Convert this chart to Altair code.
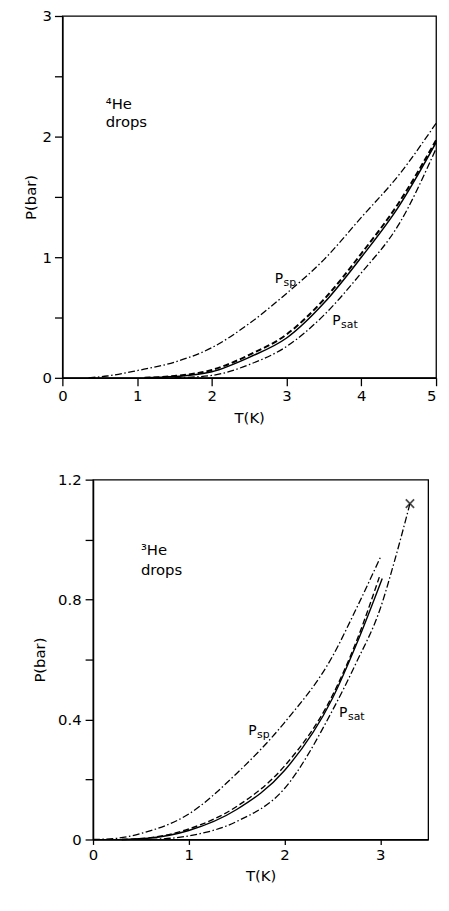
import altair as alt
import pandas as pd

# ---------------- 4He drops (top panel) ----------------
T4_sp = [0.35, 0.6, 1.0, 1.5, 2.0, 2.5, 3.0, 3.5, 4.0, 4.5, 5.0]
P4_sp = [0.0, 0.015, 0.06, 0.13, 0.25, 0.45, 0.70, 0.98, 1.33, 1.68, 2.11]
T4_solid = [1.1, 1.5, 2.0, 2.5, 3.0, 3.5, 4.0, 4.5, 5.0]
P4_solid = [0.0, 0.01, 0.05, 0.17, 0.33, 0.62, 1.0, 1.42, 1.95]
T4_dash = [1.1, 1.5, 2.0, 2.5, 3.0, 3.5, 4.0, 4.5, 5.0]
P4_dash = [0.0, 0.015, 0.065, 0.19, 0.36, 0.65, 1.03, 1.45, 1.97]
T4_sat = [1.5, 2.0, 2.5, 3.0, 3.5, 4.0, 4.5, 5.0]
P4_sat = [0.0, 0.02, 0.11, 0.26, 0.52, 0.87, 1.27, 1.90]

# ---------------- 3He drops (bottom panel) ----------------
T3_sp = [0.0, 0.25, 0.5, 1.0, 1.5, 2.0, 2.5, 2.75, 3.0]
P3_sp = [0.0, 0.004, 0.02, 0.085, 0.22, 0.39, 0.61, 0.77, 0.94]
T3_solid = [0.3, 0.6, 1.0, 1.5, 2.0, 2.5, 2.75, 3.02]
P3_solid = [0.0, 0.005, 0.03, 0.10, 0.23, 0.47, 0.65, 0.87]
T3_dash = [0.3, 0.6, 1.0, 1.5, 2.0, 2.5, 2.75, 2.99]
P3_dash = [0.0, 0.006, 0.035, 0.11, 0.245, 0.48, 0.66, 0.875]
T3_sat = [0.6, 1.0, 1.5, 2.0, 2.5, 2.75, 3.0, 3.15, 3.31]
P3_sat = [0.0, 0.012, 0.06, 0.17, 0.43, 0.59, 0.77, 0.93, 1.12]
T3_crit = [3.31]
P3_crit = [1.12]

# tick values
x4_ticks = [0, 1, 2, 3, 4, 5]
y4_ticks = [0, 0.5, 1, 1.5, 2, 2.5, 3]
x3_ticks = [0, 1, 2, 3]
y3_ticks = [0, 0.2, 0.4, 0.6, 0.8, 1.0, 1.2]

# annotations (data coordinates)
title4 = ["\u2074He", "drops"]
title4_T = [0.58, 0.58]
title4_P = [2.27, 2.12]
title3 = ["\u00b3He", "drops"]
title3_T = [0.50, 0.50]
title3_P = [0.965, 0.90]
lab4_T = [2.84, 3.61]
lab4_P = [0.82, 0.47]
lab3_T = [1.62, 2.57]
lab3_P = [0.36, 0.42]
lab_sub = ["sp", "sat"]

FONT = "DejaVu Sans"
DASHDOT = [7, 2.5, 1.5, 2.5]
DASH = [6, 3]


def curve(T, P, dash, width):
    df = pd.DataFrame({"T": T, "P": P, "i": range(len(T))})
    kw = {"strokeDash": dash} if dash else {}
    m = alt.Chart(df).mark_line(color="black", strokeWidth=width, interpolate="monotone", **kw)
    return m.encode(x=alt.X("T:Q"), y=alt.Y("P:Q"), order="i:Q")


def texts(labels, T, P, size, dx=0, dy=0):
    df = pd.DataFrame({"t": labels, "T": T, "P": P})
    return alt.Chart(df).mark_text(align="left", baseline="middle", font=FONT, fontSize=size,
                                   color="black", dx=dx, dy=dy).encode(
        x="T:Q", y="P:Q", text="t:N")


def anchor(xpos):
    # invisible (white) dot that fixes the left edge of the panel's bounds
    return alt.Chart(pd.DataFrame({"t": ["."]})).mark_text(
        align="left", baseline="middle", color="white", fontSize=8
    ).encode(x=alt.value(xpos), y=alt.value(20), text="t:N")


def spacer():
    return alt.Chart(pd.DataFrame({"a": [0]})).mark_point(size=0, opacity=0).encode(
        x=alt.value(1), y=alt.value(1)
    ).properties(width=1, height=1, view=alt.ViewBackground(stroke="transparent"))


def panel(layers, xdom, ydom, xt, yt, ylabexpr, w, h, xtick, xlabalign, ytitlepad, xtitlepad, ylabpad):
    return alt.layer(*layers).encode(
        x=alt.X("T:Q", scale=alt.Scale(domain=xdom, nice=False, zero=False),
                axis=alt.Axis(values=xt, title="T(K)", grid=False, tickSize=xtick, labelPadding=3,
                              titlePadding=xtitlepad, labelExpr="'' + datum.value",
                              labelAlign=xlabalign)),
        y=alt.Y("P:Q", scale=alt.Scale(domain=ydom, nice=False, zero=False),
                axis=alt.Axis(values=yt, title="P(bar)", grid=False, tickSize=8, labelPadding=ylabpad,
                              titlePadding=ytitlepad, labelExpr=ylabexpr)),
    ).properties(width=w, height=h)


top_layers = [
    curve(T4_sp, P4_sp, DASHDOT, 1.3),
    curve(T4_sat, P4_sat, DASHDOT, 1.3),
    curve(T4_solid, P4_solid, None, 1.5),
    curve(T4_dash, P4_dash, DASH, 2.0),
    texts(title4, title4_T, title4_P, 15),
    texts(["P", "P"], lab4_T, lab4_P, 14),
    texts(lab_sub, lab4_T, lab4_P, 11, dx=9, dy=4),
    anchor(-51),
]
top = panel(top_layers, [0, 5], [0, 3], x4_ticks, y4_ticks,
            "datum.value % 1 == 0 ? '' + datum.value : ''", 378, 366, 8,
            {"condition": {"test": "datum.value == 5", "value": "right"}, "value": "center"},
            4, 7, 3)

crit = alt.Chart(pd.DataFrame({"T": T3_crit, "P": P3_crit})).mark_point(
    shape="M-1,-1L1,1M-1,1L1,-1", size=70, strokeWidth=1.8, color="black", filled=False
).encode(x="T:Q", y="P:Q")

bot_layers = [
    curve(T3_sp, P3_sp, DASHDOT, 1.3),
    curve(T3_sat, P3_sat, DASHDOT, 1.3),
    curve(T3_solid, P3_solid, None, 1.4),
    curve(T3_dash, P3_dash, DASH, 1.4),
    crit,
    texts(title3, title3_T, title3_P, 15),
    texts(["P", "P"], lab3_T, lab3_P, 14),
    texts(lab_sub, lab3_T, lab3_P, 11, dx=9, dy=4),
    anchor(-82),
]
bottom = panel(bot_layers, [0, 3.5], [0, 1.2], x3_ticks, y3_ticks,
               "round(datum.value * 10) % 4 == 0 ? (datum.value == 0 ? '0' : format(datum.value, '.1f')) : ''",
               339, 364, 5, "center", 10, 6, 4)

chart = alt.vconcat(
    alt.hconcat(spacer(), top, spacing=0),
    alt.hconcat(spacer(), bottom, spacing=0),
    spacing=46,
).properties(
    padding={"left": 0, "top": -5, "right": 0, "bottom": 0},
    background="white",
).configure_view(
    stroke="black", strokeWidth=1.3
).configure_axis(
    domainColor="black", domainWidth=1.5, tickColor="black", tickWidth=1.3,
    labelColor="black", titleColor="black", labelFont=FONT, titleFont=FONT,
    labelFontSize=15, titleFontSize=15, titleFontWeight="normal",
)

chart.save("out.html", embed_options={"renderer": "svg", "actions": False})
